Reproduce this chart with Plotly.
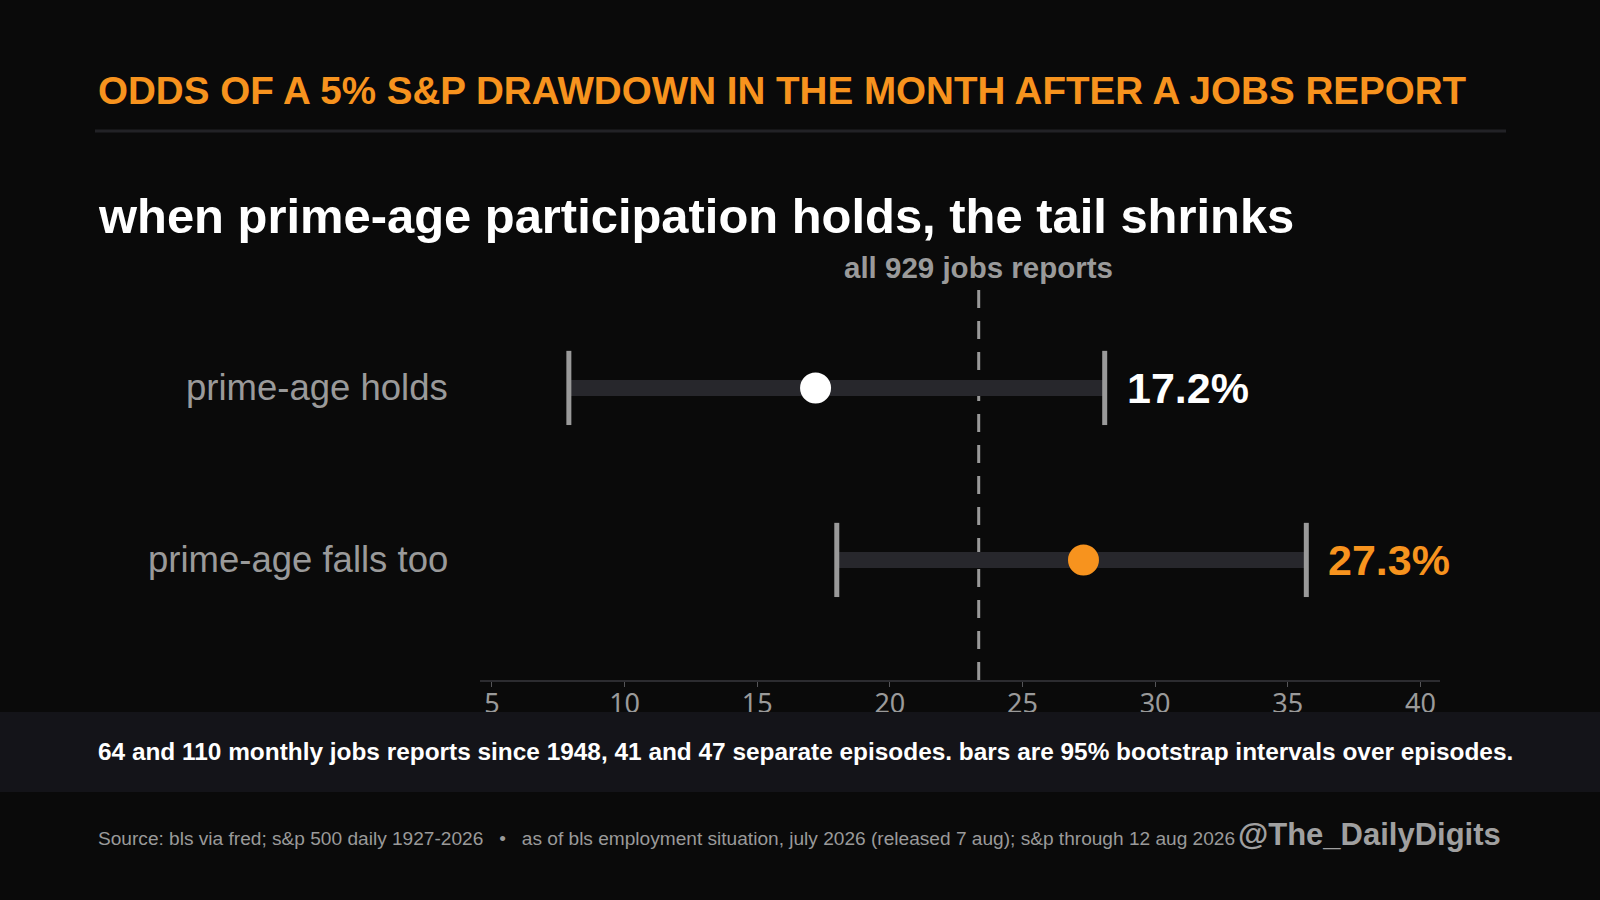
import plotly.graph_objects as go

# ---- data ----
groups = ["prime-age holds", "prime-age falls too"]
group_pos = [1, 0]
point_pct = [17.2, 27.3]
low_pct = [7.9, 18.0]
high_pct = [28.1, 35.7]
value_labels = ["17.2%", "27.3%"]
overall_pct = 23.35
overall_label = "all 929 jobs reports"
x_ticks = [5, 10, 15, 20, 25, 30, 35, 40]

BG = "#0a0a0a"
ORANGE = "#f7931e"
GREY = "#9a9a9a"
BAR = "#27272c"
point_colors = ["#ffffff", ORANGE]
FONT = "Liberation Sans, Arial, sans-serif"

W, H = 1600, 900
ML, MR, MT, MB = 480, 160, 288, 220
PW, PH = W - ML - MR, H - MT - MB


def px_x(px):
    return (px - ML) / PW


def px_y(py):
    return (H - MB - py) / PH


fig = go.Figure()

for i in range(len(groups)):
    y = group_pos[i]
    fig.add_trace(go.Scatter(x=[low_pct[i], high_pct[i]], y=[y, y], mode="lines",
                             line=dict(color=BAR, width=16), hoverinfo="skip"))
    # line-ns symbol is drawn 1.4x its size, so 53 -> ~74px caps
    fig.add_trace(go.Scatter(x=[low_pct[i], high_pct[i]], y=[y, y], mode="markers",
                             marker=dict(symbol="line-ns", size=53,
                                         line=dict(color=GREY, width=5)),
                             hoverinfo="skip"))
    fig.add_trace(go.Scatter(x=[point_pct[i]], y=[y], mode="markers",
                             marker=dict(size=31, color=point_colors[i], line=dict(width=0))))
    fig.add_annotation(x=high_pct[i], y=y, text=f"<b>{value_labels[i]}</b>", showarrow=False,
                       xanchor="left", yanchor="middle", xshift=20,
                       font=dict(family=FONT, size=43, color=point_colors[i]))
    fig.add_annotation(x=0, xref="paper", y=y, text=groups[i], showarrow=False,
                       xanchor="right", yanchor="middle", xshift=-30,
                       font=dict(family=FONT, size=36.5, color=GREY))

# overall reference line
fig.add_shape(type="line", x0=overall_pct, x1=overall_pct, xref="x", y0=0, y1=1, yref="paper",
              line=dict(color=GREY, width=3, dash="18px,13px"), layer="below")
fig.add_annotation(x=overall_pct, y=px_y(267), yref="paper", text=f"<b>{overall_label}</b>",
                   showarrow=False, xanchor="center", yanchor="middle",
                   font=dict(family=FONT, size=29.5, color=GREY))

# header
fig.add_annotation(x=px_x(96), xref="paper", y=px_y(91), yref="paper",
                   text="<b>ODDS OF A 5% S&P DRAWDOWN IN THE MONTH AFTER A JOBS REPORT</b>",
                   showarrow=False, xanchor="left", yanchor="middle",
                   font=dict(family=FONT, size=38.6, color=ORANGE))
fig.add_shape(type="line", xref="paper", yref="paper", x0=px_x(95), x1=px_x(1506),
              y0=px_y(131), y1=px_y(131), line=dict(color="#222226", width=3))
fig.add_annotation(x=px_x(96), xref="paper", y=px_y(216), yref="paper",
                   text="<b>when prime-age participation holds, the tail shrinks</b>",
                   showarrow=False, xanchor="left", yanchor="middle",
                   font=dict(family=FONT, size=48.9, color="#ffffff"))

# footer band
fig.add_shape(type="rect", xref="paper", yref="paper", x0=px_x(0), x1=px_x(W),
              y0=px_y(712), y1=px_y(792), fillcolor="#141419", line=dict(width=0), layer="above")
fig.add_annotation(x=px_x(96), xref="paper", y=px_y(751), yref="paper",
                   text="<b>64 and 110 monthly jobs reports since 1948, 41 and 47 separate episodes. "
                        "bars are 95% bootstrap intervals over episodes.</b>",
                   showarrow=False, xanchor="left", yanchor="middle",
                   font=dict(family=FONT, size=24.4, color="#ffffff"))
nb = "\u00a0"
fig.add_annotation(x=px_x(96), xref="paper", y=px_y(838), yref="paper",
                   text=f"Source: bls via fred; s&p 500 daily 1927-2026{nb * 3}•{nb * 3}as of bls employment "
                        "situation, july 2026 (released 7 aug); s&p through 12 aug 2026",
                   showarrow=False, xanchor="left", yanchor="middle",
                   font=dict(family=FONT, size=19.1, color=GREY))
fig.add_annotation(x=px_x(1503), xref="paper", y=px_y(834), yref="paper",
                   text="<b>@The_DailyDigits</b>", showarrow=False,
                   xanchor="right", yanchor="middle",
                   font=dict(family=FONT, size=31, color="#a0a0a0"))

fig.update_xaxes(range=[4.55, 40.74], tickvals=x_ticks, showgrid=False, zeroline=False,
                 showline=True, linecolor="#2c2c30", linewidth=2,
                 ticks="outside", ticklen=5, tickcolor="#555558", tickwidth=1,
                 ticklabelstandoff=-6,
                 tickfont=dict(family="Noto Sans", size=27, color=GREY))
fig.update_yaxes(range=[-0.698, 1.581], visible=False, showgrid=False, zeroline=False)

fig.update_layout(width=W, height=H, showlegend=False,
                  margin=dict(l=ML, r=MR, t=MT, b=MB, pad=0),
                  paper_bgcolor=BG, plot_bgcolor=BG,
                  font=dict(family=FONT, color=GREY))

# page has no white border in the reference
fig.write_html("out.html", config={"displayModeBar": False},
               post_script="document.body.style.margin='0';document.body.style.background='#0a0a0a';")
